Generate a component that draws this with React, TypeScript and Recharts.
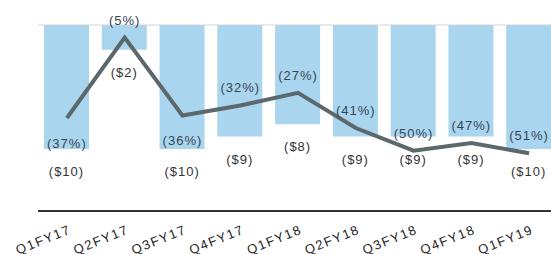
import React from 'react';
import { ComposedChart, Bar, Line, XAxis, YAxis, LabelList, ReferenceLine } from 'recharts';

// quarters, loss in $ and margin in %
const quarters = ['Q1FY17', 'Q2FY17', 'Q3FY17', 'Q4FY17', 'Q1FY18', 'Q2FY18', 'Q3FY18', 'Q4FY18', 'Q1FY19'];
const lossValues = [-10, -2, -10, -9, -8, -9, -9, -9, -10];
const marginValues = [-37, -5, -36, -32, -27, -41, -50, -47, -51];
const marginLabelBelow = ['Q1FY17', 'Q3FY17'];

const data = quarters.map((q, i) => ({ quarter: q, loss: lossValues[i], margin: marginValues[i] }));

const FONT = '"Liberation Sans", Arial, sans-serif';

const LossLabel = (props: any) => {
  const { x, y, width, height, value } = props;
  const bottom = Math.max(y, y + height);
  return (
    <text x={x + width / 2} y={bottom + 27} textAnchor="middle" fontFamily={FONT} fontSize={13}
      letterSpacing={1} fill="#333333">
      {`($${-value})`}
    </text>
  );
};

const MarginLabel = (props: any) => {
  const { x, y, value, index } = props;
  const below = marginLabelBelow.includes(quarters[index]);
  return (
    <text x={x} y={below ? y + 30 : y - 13} textAnchor="middle" fontFamily={FONT} fontSize={13}
      letterSpacing={1} fill="#364656">
      {`(${-value}%)`}
    </text>
  );
};

const QuarterTick = (props: any) => {
  const { x, y, payload } = props;
  const tx = x + 5;
  const ty = y + 22;
  return (
    <text x={tx} y={ty} textAnchor="end" fontFamily={FONT} fontSize={13} letterSpacing={1.6}
      fill="#222222" transform={`rotate(-22, ${tx}, ${ty})`}>
      {payload.value}
    </text>
  );
};

export default function App() {
  return (
    <div style={{ position: 'absolute', left: 0, top: 0, width: 551, height: 254, overflow: 'hidden', background: '#fff' }}>
      <ComposedChart width={560} height={254} data={data}
        margin={{ top: 25, right: 2, left: 38, bottom: 0 }}>
        <XAxis dataKey="quarter" height={43} tickLine={false} tickSize={0} tickMargin={0}
          axisLine={{ stroke: '#333333', strokeWidth: 2 }} tick={<QuarterTick />} interval={0} />
        <YAxis yAxisId="loss" hide width={0} domain={[-15, 0]} />
        <YAxis yAxisId="margin" hide width={0} domain={[-74, 0]} orientation="right" />
        <ReferenceLine yAxisId="loss" y={0} stroke="#d4d4d4" strokeWidth={1} />
        <Bar yAxisId="loss" dataKey="loss" fill="#aad5ef" barSize={45} isAnimationActive={false}>
          <LabelList dataKey="loss" content={<LossLabel />} />
        </Bar>
        <Line yAxisId="margin" dataKey="margin" stroke="#5c696c" strokeWidth={4} dot={false}
          type="linear" isAnimationActive={false}>
          <LabelList dataKey="margin" content={<MarginLabel />} />
        </Line>
      </ComposedChart>
    </div>
  );
}
